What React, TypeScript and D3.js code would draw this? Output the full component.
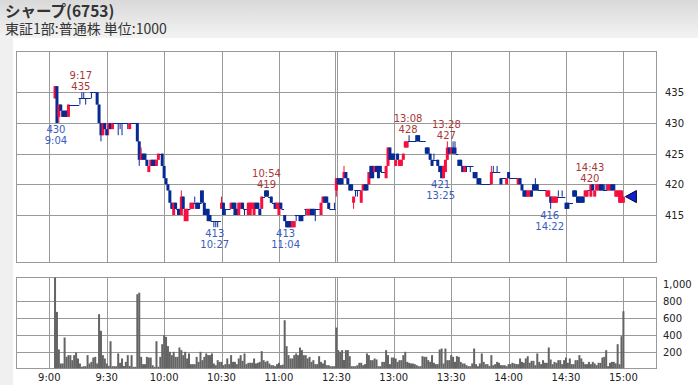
import React from 'react';
import * as d3 from 'd3';

// minute index: 0 = 9:00 ... 150 = 11:30 / 12:30 (lunch collapsed) ... 300 = 15:00
const START = 3;
const opens = [
  434,436,431,433,432,432,432,
  431,433,433,433,433,433,434,434,434,434,
  434,434,435,435,435,435,433,430,428,430,
  429,429,430,429,430,430,430,430,430,430,
  430,430,429,430,430,430,430,427,424,425,
  425,424,422,423,424,424,423,424,425,425,
  423,421,420,419,417,415,417,416,416,415,
  418,414,414,416,416,416,417,417,417,417,
  419,417,416,416,415,414,414,414,414,414,
  416,417,416,416,416,416,417,417,416,415,
  416,417,416,416,415,415,416,415,417,417,
  416,416,418,419,419,418,418,417,417,416,
  415,417,416,415,414,414,414,413,413,415,
  415,415,415,415,416,415,415,416,416,416,
  416,416,415,417,418,418,417,416,416,416,
  419,421,421,421,421,422,421,420,420,417,
  419,419,419,417,419,420,420,420,423,423,
  422,423,423,423,422,422,421,423,426,425,
  425,423,425,423,423,424,426,426,427,427,
  427,427,428,428,427,427,427,426,426,425,
  424,424,424,424,423,423,421,422,424,426,
  425,426,426,425,424,424,423,422,423,423,
  423,423,422,422,421,421,420,420,420,420,
  420,420,422,422,422,422,421,421,421,420,
  422,421,421,421,421,420,421,420,419,419,
  418,418,419,420,420,420,419,419,419,419,
  418,418,418,417,417,417,418,418,418,418,
  417,417,417,417,419,419,418,418,418,418,
  418,418,419,418,420,418,419,419,420,420,
  419,419,419,419,420,420,418,418,417,417,
  417,
];
const closes = [
  436,430,433,432,431,431,431,
  433,433,433,433,433,433,434,434,434,434,
  434,434,435,435,435,433,430,428,430,429,
  428,430,429,430,430,430,430,430,430,430,
  430,430,430,430,430,430,427,424,425,424,
  424,423,423,424,423,423,424,425,425,423,
  421,420,419,417,416,417,416,416,415,418,
  416,416,416,416,417,417,417,416,416,417,
  417,415,415,414,414,414,414,414,414,414,
  417,415,416,416,416,417,416,415,415,417,
  417,416,416,416,417,417,417,417,416,416,
  415,418,418,418,418,418,417,417,416,417,
  417,416,416,414,413,413,413,414,414,415,
  415,414,414,415,416,416,416,415,415,416,
  416,416,417,418,417,417,416,416,416,416,
  421,420,420,420,422,421,420,419,419,418,
  419,419,419,419,420,419,419,422,421,421,
  423,422,421,422,422,422,423,426,424,424,
  424,424,424,424,424,425,427,427,427,427,
  427,427,427,427,427,427,427,425,425,424,
  423,424,424,423,422,421,423,424,426,425,
  426,425,425,425,423,423,422,423,423,423,
  423,423,421,421,420,420,420,420,420,420,
  420,422,422,422,422,422,420,421,421,421,
  421,421,421,421,421,421,420,419,418,418,
  419,419,418,419,419,419,419,419,419,419,
  419,419,417,418,418,418,418,418,418,418,
  416,416,417,417,418,418,417,417,417,417,
  419,419,419,420,419,419,420,420,419,419,
  419,419,420,420,419,419,419,419,419,419,
  418,
];
const highs = [
  436,436,433,433,432,432,432,
  433,433,433,433,433,433,434,435,435,434,
  434,434,435,435,435,435,433,430,430,430,
  429,430,430,430,430,430,430,430,430,430,
  430,430,430,430,430,430,430,427,426,425,
  425,424,423,424,424,424,424,425,425,425,
  423,421,420,419,417,417,417,416,416,419,
  418,416,416,416,417,417,418,417,417,419,
  419,417,416,416,415,414,414,414,414,414,
  418,417,416,416,416,417,417,417,416,417,
  417,417,416,416,417,417,417,417,417,417,
  416,418,418,419,419,418,418,417,417,417,
  417,417,416,415,414,414,414,414,414,415,
  415,415,415,415,416,416,416,416,416,416,
  416,416,417,418,418,418,417,416,416,417,
  421,421,421,421,423,422,421,420,420,418,
  419,419,419,419,420,420,420,422,423,423,
  423,423,423,423,422,422,423,426,426,425,
  425,424,425,424,424,425,427,427,428,427,
  427,427,428,428,427,427,427,426,426,425,
  424,425,424,424,423,423,423,424,427,426,
  426,427,427,425,424,424,423,423,423,423,
  423,423,422,422,421,421,420,420,420,420,
  420,423,423,422,423,422,421,421,421,421,
  422,421,421,421,421,421,421,420,419,419,
  419,419,419,420,421,420,419,419,419,419,
  419,419,418,418,418,418,419,418,419,418,
  417,417,417,417,419,419,418,418,418,418,
  419,419,419,420,420,419,420,420,420,420,
  420,420,420,420,420,420,419,419,419,419,
  418,
];
const lows = [
  434,430,430,432,431,431,431,
  431,433,433,433,433,433,433,434,434,433,
  434,434,434,435,435,433,430,427,428,429,
  428,428,429,429,430,430,428,429,428,430,
  430,429,429,430,430,430,427,423,424,424,
  424,423,422,423,423,423,423,424,425,423,
  421,420,419,417,416,415,416,415,415,415,
  416,414,414,416,416,416,417,416,416,417,
  417,415,415,414,414,414,413,413,413,414,
  416,415,415,416,416,416,416,415,415,415,
  416,416,415,416,415,415,416,415,416,416,
  415,416,418,418,418,418,417,417,416,416,
  415,416,416,414,413,413,413,413,413,414,
  415,414,414,415,415,415,415,415,415,414,
  416,416,415,417,417,417,416,416,416,416,
  418,420,420,420,421,421,420,419,419,416,
  418,418,419,417,419,419,419,420,421,421,
  422,422,421,422,422,422,421,423,424,424,
  424,423,424,423,423,424,426,426,427,427,
  427,427,427,427,427,427,427,425,425,424,
  423,424,424,423,422,421,421,422,424,425,
  425,425,425,425,423,423,422,422,422,423,
  422,423,421,421,420,420,420,420,420,420,
  420,420,422,422,422,422,420,421,421,420,
  421,421,421,421,421,420,420,419,418,418,
  418,418,418,419,419,419,419,419,419,419,
  418,418,416,417,417,417,418,418,418,418,
  416,416,417,417,418,418,417,417,417,417,
  418,418,419,418,419,418,419,419,419,419,
  419,419,419,419,419,419,418,418,417,417,
  417,
];
const volumes = [
  1100,666,224,59,59,365,137,
  157,157,98,157,188,118,59,20,27,27,
  157,59,78,129,137,60,639,443,157,118,
  59,30,321,27,27,27,177,67,118,30,
  78,157,30,157,20,20,874,892,137,51,
  51,137,129,129,39,20,321,20,137,286,
  392,372,263,196,157,196,137,137,247,216,
  157,196,118,177,51,51,51,137,78,196,
  98,137,177,157,157,177,59,39,98,78,
  78,39,51,118,51,157,78,78,51,118,
  157,90,177,51,67,67,67,118,59,67,
  78,204,98,78,90,59,39,39,27,51,
  67,39,45,568,263,157,118,118,157,177,
  157,247,216,157,157,118,137,78,98,51,
  51,145,78,59,98,39,39,27,27,27,
  482,216,196,216,100,216,216,145,27,27,
  27,39,67,67,39,51,177,157,98,98,
  118,106,27,27,78,78,216,157,51,129,
  129,118,78,98,98,157,196,78,67,59,
  59,51,39,27,27,145,137,137,98,78,
  157,67,51,51,223,235,59,235,98,98,
  157,137,78,145,137,78,59,59,39,27,
  27,60,235,51,27,59,177,78,51,51,
  30,157,39,51,78,67,39,39,39,27,
  51,51,67,59,51,51,118,78,67,118,
  145,67,90,90,39,177,78,51,98,67,
  67,247,106,51,78,67,98,98,51,98,
  129,67,118,51,51,98,98,157,118,78,
  51,51,78,51,78,59,39,67,67,129,
  137,216,27,67,78,78,60,286,50,380,
  674,
];

const timeTicks = [0, 30, 60, 90, 120, 150, 180, 210, 240, 270, 300];
const timeLabels = ['9:00', '9:30', '10:00', '10:30', '11:00', '12:30', '13:00', '13:30', '14:00', '14:30', '15:00'];
const priceTicks = [415, 420, 425, 430, 435];
const volTicks = [200, 400, 600, 800, 1000];
const volLabels = ['200', '400', '600', '800', '1,000'];

const annMinutes = [17, 4, 87, 114, 124, 188, 205, 208, 262, 283];
const annTimes = ['9:17', '9:04', '10:27', '10:54', '11:04', '13:08', '13:25', '13:28', '14:22', '14:43'];
const annPrices = [435, 430, 413, 419, 413, 428, 421, 427, 416, 420];
const annKinds = ['high', 'low', 'low', 'high', 'low', 'high', 'low', 'high', 'low', 'high'];
const lastPrice = 418;

const W = 698;
const H = 385;
const RED = '#f5103f';
const BLUE = '#062a92';
const GRID = '#999999';
const FONT = 'DejaVu Sans, sans-serif';

export default function App() {
  const x = d3.scaleLinear().domain([-17.4, 317.4]).range([16, 656.7]);
  const y = d3.scaleLinear().domain([415, 435]).range([215, 92.3]);
  const yv = d3.scaleLinear().domain([0, 1000]).range([368.5, 283.5]);
  const px = { l: 16.5, r: 656.5, t: 51.5, b: 262.5 };
  const vp = { t: 277.5, b: 368.5 };
  const crisp = (v: number) => Math.round(v) + 0.5;

  const candles = opens.map((o, i) => ({
    t: START + i,
    o,
    c: closes[i],
    h: Math.max(highs[i], o, closes[i]),
    l: Math.min(lows[i], o, closes[i]),
    v: volumes[i],
  }));

  const bw = 3;
  const grad = 'bgGrad';

  return (
    <svg width={W} height={H} style={{ position: 'absolute', left: 0, top: 0 }}>
      <defs>
        <linearGradient id={grad} x1="0" y1="0" x2="0" y2="1">
          <stop offset="0%" stopColor="#d9d9d9" />
          <stop offset="100%" stopColor="#f3f3f3" />
        </linearGradient>
        <clipPath id="priceClip">
          <rect x={px.l} y={px.t} width={px.r - px.l} height={px.b - px.t} />
        </clipPath>
        <clipPath id="volClip">
          <rect x={px.l} y={vp.t} width={px.r - px.l} height={vp.b - vp.t} />
        </clipPath>
      </defs>
      <rect x={0} y={0} width={W} height={H} fill="#f0f0f0" />
      <rect x={0} y={0} width={W} height={38} fill={`url(#${grad})`} />
      <rect x={13} y={38} width={W - 13} height={H - 38} fill="#ffffff" />

      <text x={5} y={17} fontFamily="'Noto Sans CJK JP', sans-serif" fontWeight="bold" fontSize={15.5} fill="#333">
        シャープ(6753)
      </text>
      <text x={5} y={33.5} fontFamily="'Noto Sans CJK JP', sans-serif" fontSize={14} fill="#333">
        東証1部:普通株 単位:1000
      </text>

      {/* price panel grid */}
      {priceTicks.map((p) => (
        <line key={'pg' + p} x1={px.l} x2={px.r} y1={crisp(y(p))} y2={crisp(y(p))} stroke={GRID} />
      ))}
      {timeTicks.map((t) =>
        t === 150 ? (
          <g key={'tg' + t}>
            <line x1={Math.floor(x(t)) - 0.5} x2={Math.floor(x(t)) - 0.5} y1={px.t} y2={px.b} stroke={GRID} />
            <line x1={Math.floor(x(t)) + 1.5} x2={Math.floor(x(t)) + 1.5} y1={px.t} y2={px.b} stroke={GRID} />
            <line x1={Math.floor(x(t)) - 0.5} x2={Math.floor(x(t)) - 0.5} y1={vp.t} y2={vp.b} stroke={GRID} />
            <line x1={Math.floor(x(t)) + 1.5} x2={Math.floor(x(t)) + 1.5} y1={vp.t} y2={vp.b} stroke={GRID} />
          </g>
        ) : (
          <g key={'tg' + t}>
            <line x1={crisp(x(t))} x2={crisp(x(t))} y1={px.t} y2={px.b} stroke={GRID} />
            <line x1={crisp(x(t))} x2={crisp(x(t))} y1={vp.t} y2={vp.b} stroke={GRID} />
          </g>
        )
      )}
      {volTicks.slice(0, 4).map((v) => (
        <line key={'vg' + v} x1={px.l} x2={px.r} y1={crisp(yv(v))} y2={crisp(yv(v))} stroke={GRID} />
      ))}
      <rect x={px.l} y={px.t} width={px.r - px.l} height={px.b - px.t} fill="none" stroke={GRID} />
      <rect x={px.l} y={vp.t} width={px.r - px.l} height={vp.b - vp.t} fill="none" stroke={GRID} />

      {/* volume */}
      <g clipPath="url(#volClip)">
        {candles.map((d) => (
          <rect
            key={'v' + d.t}
            x={x(d.t) - 1}
            y={yv(d.v)}
            width={2}
            height={yv(0) - yv(d.v)}
            fill="#646464"
          />
        ))}
      </g>

      {/* candles */}
      <g clipPath="url(#priceClip)">
        {candles.map((d) => {
          const cx = x(d.t);
          if (d.o === d.c) {
            return (
              <g key={'c' + d.t}>
                {d.h !== d.l && (
                  <line x1={cx} x2={cx} y1={y(d.h)} y2={y(d.l)} stroke={BLUE} strokeWidth={1} />
                )}
                <line x1={cx - 1.3} x2={cx + 1.3} y1={crisp(y(d.o))} y2={crisp(y(d.o))} stroke={BLUE} strokeWidth={1.2} />
              </g>
            );
          }
          const up = d.c > d.o;
          const col = up ? RED : BLUE;
          const top = y(Math.max(d.o, d.c));
          const bot = y(Math.min(d.o, d.c));
          return (
            <g key={'c' + d.t}>
              <line x1={cx} x2={cx} y1={y(d.h)} y2={y(d.l)} stroke={col} strokeWidth={1} />
              <rect x={cx - bw / 2} y={top} width={bw} height={bot - top} fill={col} />
            </g>
          );
        })}
      </g>

      {/* last price marker */}
      <path
        d={`M${x(300) + 2},${y(lastPrice)} L${x(300) + 13},${y(lastPrice) - 6} L${x(300) + 13},${y(lastPrice) + 6} Z`}
        fill="#1020d0"
        stroke="#000033"
        strokeWidth={1}
      />

      {/* high / low annotations */}
      {annMinutes.map((t, i) => {
        const isHigh = annKinds[i] === 'high';
        const col = isHigh ? '#a83838' : '#3a5cc0';
        const cx = x(t) - 1;
        const py = y(annPrices[i]);
        return isHigh ? (
          <g key={'a' + i} fontFamily={FONT} fontSize={10} fill={col} textAnchor="middle">
            <text x={cx} y={py - 13.5}>{annTimes[i]}</text>
            <text x={cx} y={py - 2.5}>{annPrices[i]}</text>
          </g>
        ) : (
          <g key={'a' + i} fontFamily={FONT} fontSize={10} fill={col} textAnchor="middle">
            <text x={cx} y={py + 10}>{annPrices[i]}</text>
            <text x={cx} y={py + 21}>{annTimes[i]}</text>
          </g>
        );
      })}

      {/* axes labels */}
      {priceTicks.map((p) => (
        <text key={'pl' + p} x={665} y={y(p) + 4} fontFamily={FONT} fontSize={10} fill="#222">
          {p}
        </text>
      ))}
      {volTicks.map((v, i) => (
        <text key={'vl' + v} x={663} y={yv(v) + 4} fontFamily={FONT} fontSize={10} fill="#222">
          {volLabels[i]}
        </text>
      ))}
      {timeTicks.map((t, i) => (
        <text key={'tl' + t} x={x(t)} y={381} fontFamily={FONT} fontSize={10} fill="#222" textAnchor="middle">
          {timeLabels[i]}
        </text>
      ))}
    </svg>
  );
}
